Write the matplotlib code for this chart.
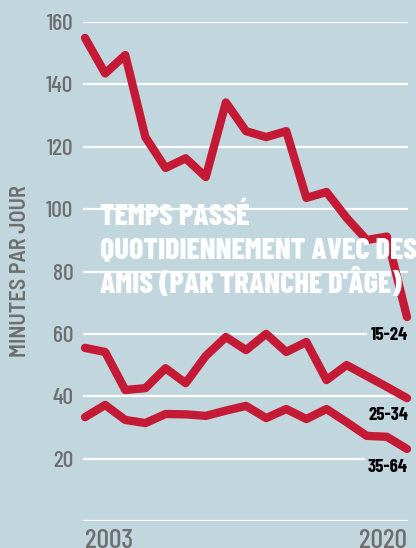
import matplotlib.pyplot as plt

# minutes per day spent with friends, 2003 -> 2020
year_labels = ['2003', '2020']
ages_15_24 = [154.9, 143.5, 149.4, 123.1, 113.2, 116.3, 110.3, 134.2, 125.0,
              123.1, 125.0, 103.6, 105.5, 97.2, 90.1, 91.2, 65.4]
ages_25_34 = [55.5, 54.2, 42.0, 42.6, 49.0, 44.2, 52.9, 59.0, 54.8,
              60.0, 54.2, 57.4, 45.2, 50.0, 46.5, 43.0, 39.4]
ages_35_64 = [33.3, 37.2, 32.4, 31.4, 34.3, 34.2, 33.7, 35.4, 36.9,
              33.0, 35.9, 32.7, 35.9, 31.7, 27.3, 27.0, 23.1]
series_names = ['15-24', '25-34', '35-64']

bg = '#c2d6de'
red = '#c41a35'
grey = '#6e6e6e'
plt.rcParams['font.family'] = ['Barlow Condensed', 'Bebas Neue', 'DejaVu Sans']

fig = plt.figure(figsize=(4.16, 5.48), dpi=100, facecolor=bg)
ax = fig.add_axes([83 / 416, 27 / 548, 325 / 416, 499 / 548])
ax.set_facecolor(bg)

x = list(range(len(ages_15_24)))
for vals in [ages_15_24, ages_25_34, ages_35_64]:
    ax.plot(x, vals, color=red, lw=6, solid_joinstyle='round',
            solid_capstyle='round', zorder=3, clip_on=False)

ax.set_xlim(-0.1, 16.05)
ax.set_ylim(0, 160)
ax.set_yticks(range(0, 161, 20))
ax.set_yticklabels([''] + [str(v) for v in range(20, 161, 20)])
ax.grid(axis='y', color='white', lw=1.6, zorder=1)
ax.set_axisbelow(True)
ax.tick_params(axis='y', length=0, pad=7, labelsize=17, labelcolor=grey)
ax.tick_params(axis='x', length=0, pad=6, labelsize=20, labelcolor=grey)
for lab in ax.get_yticklabels():
    lab.set_fontweight(500)
ax.set_xticks([x[0], x[-1]])
ax.set_xticklabels(year_labels, fontweight=500)
xl = ax.get_xticklabels()
xl[0].set_ha('left')
xl[1].set_ha('right')
for s in ax.spines.values():
    s.set_visible(False)

ax.set_ylabel('MINUTES PAR JOUR', color=grey, fontsize=16, fontweight=600,
              family=['Barlow Semi Condensed', 'Barlow Condensed', 'DejaVu Sans'],
              va='center')
ax.yaxis.set_label_coords(-0.194, 0.501)

# series labels at right end
for name, yv in zip(series_names, [59.6, 33.7, 17.3]):
    ax.text(16.05, yv, name, ha='right', va='center', fontsize=13.5,
            fontweight='bold', color='black', zorder=4,
            bbox=dict(facecolor=bg, edgecolor='none', pad=2.5))

# title
title_lines = ['TEMPS PASSÉ', 'QUOTIDIENNEMENT AVEC DES', "AMIS (PAR TRANCHE D'ÂGE)"]
for line, yv in zip(title_lines, [94.9, 84.0, 73.1]):
    ax.text(0.75, yv, line, ha='left', va='baseline', fontsize=21.8,
            fontweight=800, color='white', zorder=5)

fig.savefig('out.png', dpi=100, facecolor=bg)
